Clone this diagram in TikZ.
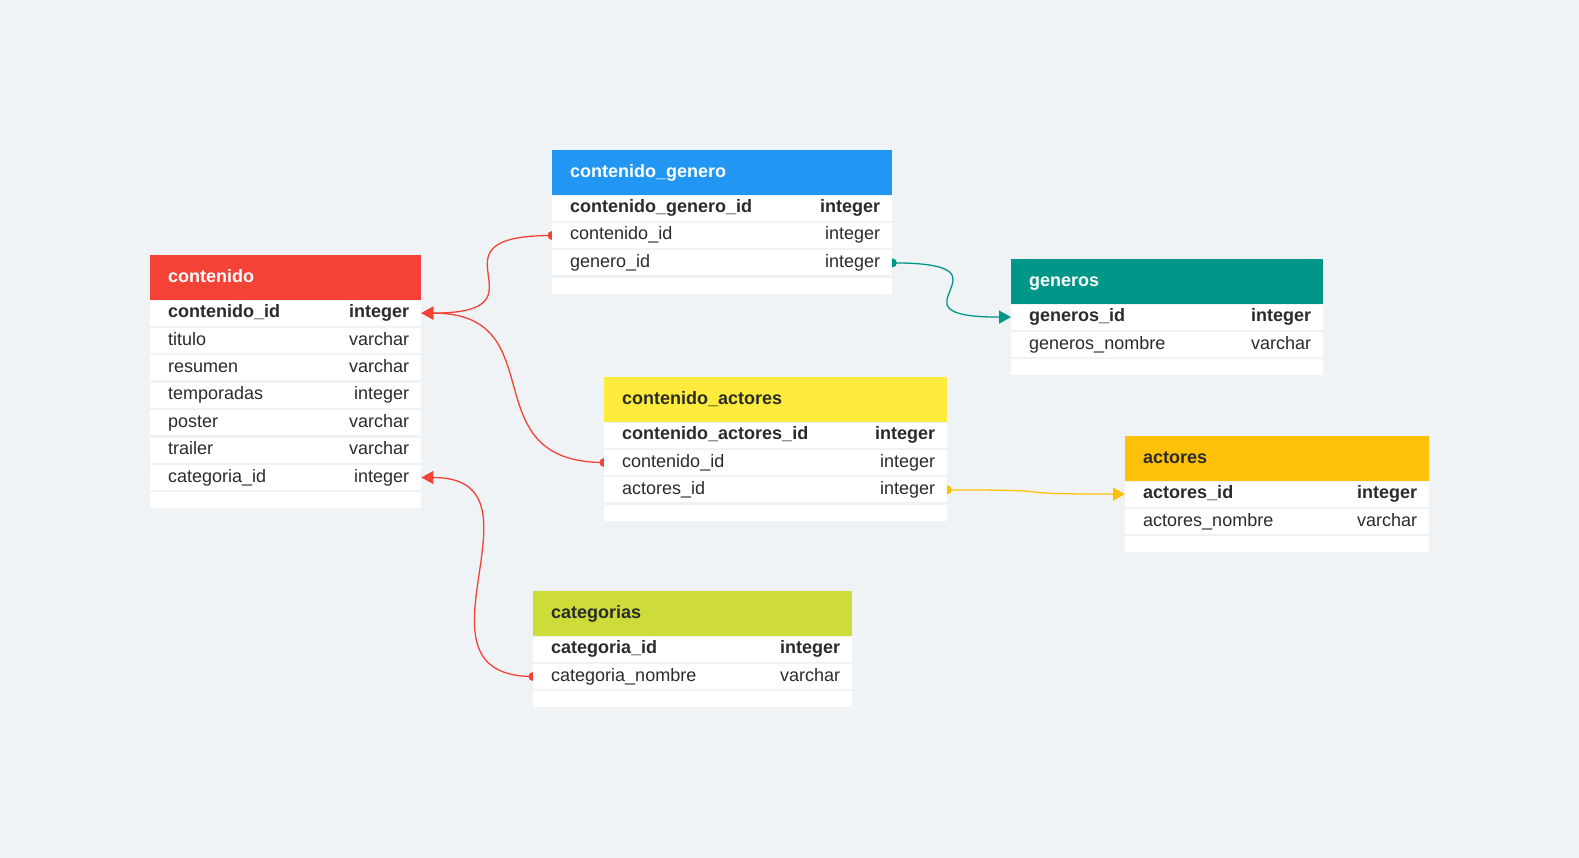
\documentclass[tikz,border=0pt]{standalone}
\usepackage{fontspec}
\setmainfont{Liberation Sans}
\usetikzlibrary{positioning,arrows.meta,backgrounds}
\definecolor{bgc}{HTML}{EFF3F6}
\definecolor{ink}{HTML}{2B2B2B}
\definecolor{cred}{HTML}{F44336}
\definecolor{cblue}{HTML}{2196F3}
\definecolor{cteal}{HTML}{009688}
\definecolor{cyellow}{HTML}{FFEB3B}
\definecolor{camber}{HTML}{FFC107}
\definecolor{clime}{HTML}{CDDC39}
\newcommand{\tw}{271}
\newcommand{\fld}[2]{\hbox to \tw pt{\hskip18pt #1\hfill #2\hskip12pt}}
\newcommand{\pk}[2]{\fld{\textbf{#1}}{\textbf{#2}}}
\newcommand{\hd}[1]{\fld{\textbf{#1}}{}}

\begin{document}
\begin{tikzpicture}[x=1pt, y=-1pt, font=\fontsize{18}{21}\selectfont,
  hdr/.style={fill=#1, text=ink, anchor=north west, inner sep=0, minimum height=45pt, text height=13pt, text depth=4pt},
  hdrw/.style={hdr=#1, text=white},
  row/.style={fill=white, text=ink, inner sep=0, minimum height=25pt, text height=13pt, text depth=4pt},
  blank/.style={fill=white, inner sep=0, minimum height=16pt, minimum width=\tw pt},
  rel/.style={line width=1.3pt, -{Triangle[length=12pt,width=13pt]}}]
  \renewcommand{\tw}{271}
  \node[hdrw=cred] (cont) at (150,255) {\hd{contenido}};
  \node[row, below=0pt of cont] (cont-id) {\pk{contenido\_id}{integer}};
  \node[row, below=2pt of cont-id] (cont-titulo) {\fld{titulo}{varchar}};
  \node[row, below=2pt of cont-titulo] (cont-resumen) {\fld{resumen}{varchar}};
  \node[row, below=2pt of cont-resumen] (cont-temp) {\fld{temporadas}{integer}};
  \node[row, below=2pt of cont-temp] (cont-poster) {\fld{poster}{varchar}};
  \node[row, below=2pt of cont-poster] (cont-trailer) {\fld{trailer}{varchar}};
  \node[row, below=2pt of cont-trailer] (cont-cat) {\fld{categoria\_id}{integer}};
  \node[blank, below=2pt of cont-cat] (cont-end) {};
  \renewcommand{\tw}{340}
  \node[hdrw=cblue] (cg) at (552,150) {\hd{contenido\_genero}};
  \node[row, below=0pt of cg] (cg-id) {\pk{contenido\_genero\_id}{integer}};
  \node[row, below=2pt of cg-id] (cg-cid) {\fld{contenido\_id}{integer}};
  \node[row, below=2pt of cg-cid] (cg-gid) {\fld{genero\_id}{integer}};
  \node[blank, below=2pt of cg-gid] (cg-end) {};
  \renewcommand{\tw}{312}
  \node[hdrw=cteal] (gen) at (1011,259) {\hd{generos}};
  \node[row, below=0pt of gen] (gen-id) {\pk{generos\_id}{integer}};
  \node[row, below=2pt of gen-id] (gen-nombre) {\fld{generos\_nombre}{varchar}};
  \node[blank, below=2pt of gen-nombre] (gen-end) {};
  \renewcommand{\tw}{343}
  \node[hdr=cyellow] (ca) at (604,377) {\hd{contenido\_actores}};
  \node[row, below=0pt of ca] (ca-id) {\pk{contenido\_actores\_id}{integer}};
  \node[row, below=2pt of ca-id] (ca-cid) {\fld{contenido\_id}{integer}};
  \node[row, below=2pt of ca-cid] (ca-aid) {\fld{actores\_id}{integer}};
  \node[blank, below=2pt of ca-aid] (ca-end) {};
  \renewcommand{\tw}{304}
  \node[hdr=camber] (act) at (1125,436) {\hd{actores}};
  \node[row, below=0pt of act] (act-id) {\pk{actores\_id}{integer}};
  \node[row, below=2pt of act-id] (act-nombre) {\fld{actores\_nombre}{varchar}};
  \node[blank, below=2pt of act-nombre] (act-end) {};
  \renewcommand{\tw}{319}
  \node[hdr=clime] (cat) at (533,591) {\hd{categorias}};
  \node[row, below=0pt of cat] (cat-id) {\pk{categoria\_id}{integer}};
  \node[row, below=2pt of cat-id] (cat-nombre) {\fld{categoria\_nombre}{varchar}};
  \node[blank, below=2pt of cat-nombre] (cat-end) {};
  \begin{scope}[on background layer]
    \fill[bgc] (0,0) rectangle (1579,858);
    \draw[rel, cred] (cg-cid.west) .. controls +(-135,0) and +(135,0) .. (cont-id.east);
    \draw[rel, cred] (ca-cid.west) .. controls +(-135,0) and +(135,0) .. (cont-id.east);
    \draw[rel, cred] (cat-nombre.west) .. controls +(-135,0) and +(135,0) .. (cont-cat.east);
    \draw[rel, cteal] (cg-gid.east) .. controls +(135,0) and +(-135,0) .. (gen-id.west);
    \draw[rel, camber] (ca-aid.east) .. controls +(135,0) and +(-135,0) .. (act-id.west);
    \fill[cred] (cg-cid.west) circle (4.5pt) (ca-cid.west) circle (4.5pt) (cat-nombre.west) circle (4.5pt);
    \fill[cteal] (cg-gid.east) circle (4.5pt);
    \fill[camber] (ca-aid.east) circle (4.5pt);
  \end{scope}
\end{tikzpicture}
\end{document}
